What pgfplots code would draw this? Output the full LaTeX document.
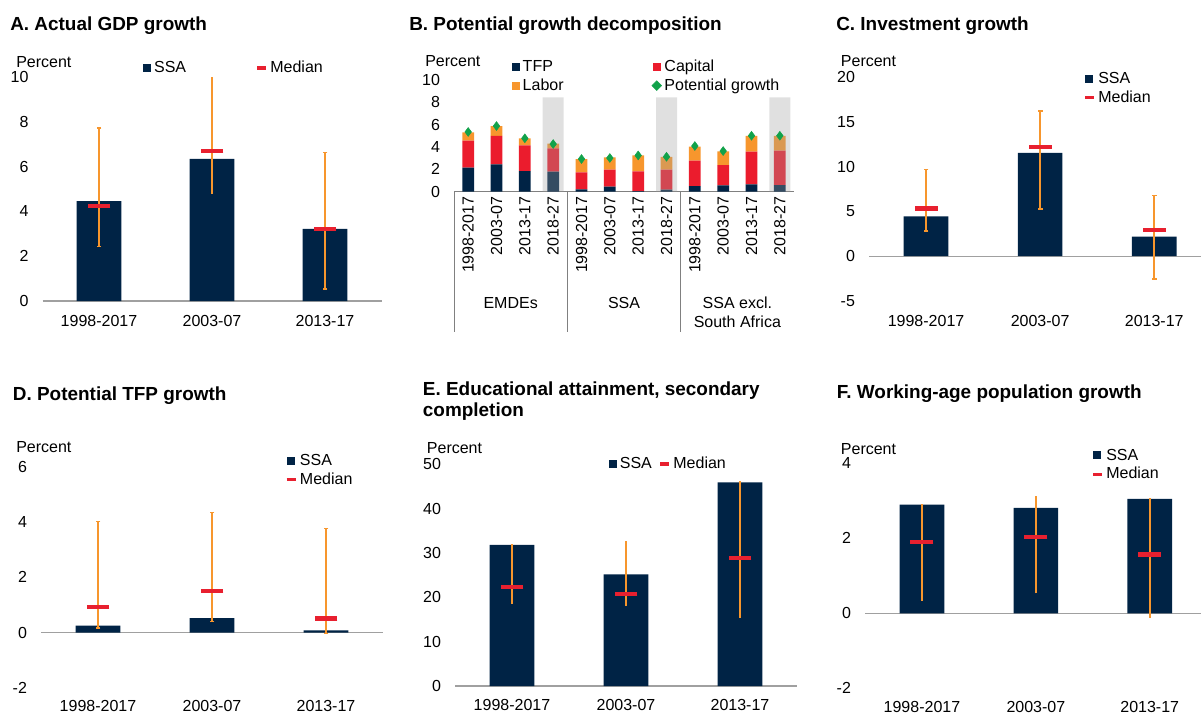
\documentclass[border=0pt]{standalone}
\usepackage{fontspec}
\setmainfont{Liberation Sans}
\usepackage{pgfplots}
\usepackage{pgfplotstable}
\pgfplotsset{compat=1.18}
\definecolor{navy}{HTML}{002345}
\definecolor{medred}{HTML}{E8202F}
\definecolor{errorange}{HTML}{F7962D}
\definecolor{labor}{HTML}{F7962D}
\definecolor{capred}{HTML}{EB1C2D}
\definecolor{potgreen}{HTML}{11A24A}
\definecolor{axgray}{HTML}{A0A0A0}
\definecolor{sepgray}{HTML}{808080}
\definecolor{shade}{HTML}{A0A0A0}
\newcommand{\tfont}{\fontsize{12}{14}\selectfont}
\newcommand{\hfont}{\bfseries\fontsize{14.2}{16}\selectfont}

\pgfplotstableread{
x TFP Cap Lab Pot
0 2.15 2.42 0.75 5.35
1 2.45 2.56 0.87 5.88
2 1.85 2.30 0.63 4.78
3 1.79 2.09 0.42 4.27
4 0.21 1.52 1.20 2.93
5 0.45 1.52 1.10 3.02
6 0.06 1.76 1.43 3.25
7 0.18 1.79 1.16 3.13
8 0.51 2.27 1.25 4.09
9 0.57 1.82 1.22 3.64
10 0.66 2.92 1.41 5.01
11 0.60 3.07 1.32 5.01
}\Bdata

\pgfplotsset{
  panel/.style={
    scale only axis, clip=false,
    axis line style={draw=none},
    major tick length=0pt, tick style={draw=none},
    xmin=-0.5, xmax=2.5,
    xtick={0,1,2}, xticklabels={1998-2017,2003-07,2013-17},
    ticklabel style={font=\tfont},
    yticklabel style={xshift=-7pt},
    extra y ticks={0}, extra y tick labels={},
    extra y tick style={grid=major},
    major grid style={draw=axgray, line width=0.9pt},
    legend style={draw=none, fill=none, font=\tfont, inner sep=0pt},
    legend cell align=left,
  },
  sqleg/.style={legend image code/.code={\fill (0pt,-3pt) rectangle (6pt,3pt);}},
  medleg/.style={legend image code/.code={\draw[medred, line width=2.4pt] (0pt,0pt) -- (6.75pt,0pt);}},
  barsty/.style={ybar, bar width=33.5pt, bar shift=0pt, fill=navy, draw=none, sqleg},
  rng/.style={forget plot, draw=errorange, line width=1.6pt, mark=-, mark size=1.8pt, mark options={draw=errorange, line width=1.3pt}},
  rng2/.style={forget plot, draw=errorange, line width=1.6pt, mark=none},
  medsty/.style={only marks, mark=-, mark size=8.6pt, mark options={line width=3.2pt, draw=medred}, medleg},
}

\begin{document}
\begin{tikzpicture}
\useasboundingbox (0pt,0pt) rectangle (900.75pt,-536.25pt);

% ---------- Panel A ----------
\begin{axis}[panel, at={(31.875pt,-225.75pt)}, anchor=south west, width=254.25pt, height=168pt,
  ymin=0, ymax=10, ytick={0,2,4,6,8,10}, yticklabels={0,2,4,6,8,10},
  xticklabel style={yshift=-7pt},
  legend columns=2, legend style={at={(0.297,1.040)}, anchor=west, /tikz/every even column/.append style={column sep=50pt}}]
\addplot[barsty] coordinates {(0,4.46) (1,6.35) (2,3.22)}; \addlegendentry{SSA}
\addplot[rng] coordinates {(0,2.43) (0,7.72)};
\addplot[rng2] coordinates {(1,4.78) (1,10)};
\addplot[rng] coordinates {(2,0.52) (2,6.63)};
\addplot[medsty] coordinates {(0,4.25) (1,6.71) (2,3.20)}; \addlegendentry{Median}
\end{axis}

% ---------- Panel B ----------
\begin{axis}[panel, at={(340.5pt,-143.8pt)}, anchor=south west, width=255pt, height=83.8pt,
  xmin=-0.5, xmax=11.5, ymin=0, ymax=10, ytick={0,2,4,6,8,10}, yticklabels={0,2,4,6,8,10},
  xtick={0,...,11},
  xticklabels={1998-2017,2003-07,2013-17,2018-27,1998-2017,2003-07,2013-17,2018-27,1998-2017,2003-07,2013-17,2018-27},
  xticklabel style={rotate=90, anchor=east},
  major grid style={draw=sepgray, line width=0.8pt},
  ybar stacked, bar width=8.8pt,
  legend columns=2, legend style={at={(0.170,1.206)}, anchor=north west, /tikz/every even column/.append style={column sep=64pt}}]
\addplot[fill=navy, draw=none, sqleg] table[x=x, y=TFP]{\Bdata}; \addlegendentry{TFP}
\addplot[fill=capred, draw=none, sqleg] table[x=x, y=Cap]{\Bdata}; \addlegendentry{Capital}
\addplot[fill=labor, draw=none, sqleg] table[x=x, y=Lab]{\Bdata}; \addlegendentry{Labor}
\addlegendimage{legend image code/.code={\fill[potgreen] (3pt,-3.6pt) -- (6.6pt,0pt) -- (3pt,3.6pt) -- (-0.6pt,0pt) -- cycle;}}
\addlegendentry{Potential growth}
\draw[sepgray, line width=0.6pt] (axis cs:-0.5,0) -- ++(0pt,-105pt);
\draw[sepgray, line width=0.6pt] (axis cs:3.5,0) -- ++(0pt,-105pt);
\draw[sepgray, line width=0.6pt] (axis cs:7.5,0) -- ++(0pt,-105pt);
\node[font=\tfont, yshift=-83.5pt] at (axis cs:1.5,0) {EMDEs};
\node[font=\tfont, yshift=-83.5pt] at (axis cs:5.5,0) {SSA};
\node[font=\tfont, align=center, yshift=-90.5pt] at (axis cs:9.5,0) {SSA excl.\\South Africa};
\end{axis}
\begin{axis}[at={(340.5pt,-143.8pt)}, anchor=south west, scale only axis, width=255pt, height=83.8pt,
  xmin=-0.5, xmax=11.5, ymin=0, ymax=10, hide axis, clip=false]
\addplot[only marks, mark=diamond*, mark size=3.3pt, mark options={fill=potgreen, draw=potgreen}] table[x=x, y=Pot]{\Bdata};
\addplot[ybar, bar width=15.75pt, bar shift=0pt, fill=shade, draw=none, fill opacity=0.33] coordinates {(3,8.45) (7,8.45) (11,8.45)};
\end{axis}

% ---------- Panel C ----------
\begin{axis}[panel, at={(651.75pt,-225.75pt)}, anchor=south west, width=249pt, height=168pt,
  xmax=2.41, ymin=-5, ymax=20, ytick={-5,0,5,10,15,20}, yticklabels={-5,0,5,10,15,20},
  xticklabel style={yshift=-7pt},
  legend style={at={(0.645,1.033)}, anchor=north west}]
\addplot[barsty] coordinates {(0,4.45) (1,11.54) (2,2.19)}; \addlegendentry{SSA}
\addplot[rng] coordinates {(0,2.78) (0,9.68)};
\addplot[rng] coordinates {(1,5.27) (1,16.2)};
\addplot[rng] coordinates {(2,-2.52) (2,6.79)};
\addplot[medsty] coordinates {(0,5.31) (1,12.2) (2,2.89)}; \addlegendentry{Median}
\end{axis}

% ---------- Panel D ----------
\begin{axis}[panel, at={(30.75pt,-515.8pt)}, anchor=south west, width=256.5pt, height=165.75pt,
  ymin=-2, ymax=6, ytick={-2,0,2,4,6}, yticklabels={-2,0,2,4,6},
  xticklabel style={yshift=-6pt},
  legend style={at={(0.713,1.071)}, anchor=north west}]
\addplot[barsty] coordinates {(0,0.25) (1,0.52) (2,0.08)}; \addlegendentry{SSA}
\addplot[rng] coordinates {(0,0.16) (0,4.02)};
\addplot[rng] coordinates {(1,0.40) (1,4.34)};
\addplot[rng] coordinates {(2,-0.04) (2,3.76)};
\addplot[medsty] coordinates {(0,0.93) (1,1.51) (2,0.51)}; \addlegendentry{Median}
\end{axis}

% ---------- Panel E ----------
\begin{axis}[panel, at={(341.25pt,-514.5pt)}, anchor=south west, width=256.5pt, height=166.3pt,
  ymin=0, ymax=50, ytick={0,10,20,30,40,50}, yticklabels={0,10,20,30,40,50},
  xticklabel style={yshift=-6.7pt},
  legend columns=2, legend style={at={(0.450,1.001)}, anchor=west, /tikz/every even column/.append style={column sep=3pt}}]
\addplot[barsty] coordinates {(0,31.8) (1,25.2) (2,45.9)}; \addlegendentry{SSA}
\addplot[rng2] coordinates {(0,18.6) (0,32.0)};
\addplot[rng2] coordinates {(1,18.0) (1,32.7)};
\addplot[rng2] coordinates {(2,15.3) (2,46.2)};
\addplot[medsty] coordinates {(0,22.3) (1,20.75) (2,28.8)}; \addlegendentry{Median}
\end{axis}

% ---------- Panel F ----------
\begin{axis}[panel, at={(648.75pt,-516.2pt)}, anchor=south west, width=252pt, height=168.75pt,
  xmax=2.45, ymin=-2, ymax=4, ytick={-2,0,2,4}, yticklabels={-2,0,2,4},
  xticklabel style={yshift=-6.5pt},
  legend style={at={(0.673,1.077)}, anchor=north west}]
\addplot[barsty] coordinates {(0,2.90) (1,2.81) (2,3.05)}; \addlegendentry{SSA}
\addplot[rng2] coordinates {(0,0.34) (0,2.92)};
\addplot[rng2] coordinates {(1,0.53) (1,3.14)};
\addplot[rng2] coordinates {(2,-0.12) (2,3.08)};
\addplot[medsty] coordinates {(0,1.91) (1,2.03) (2,1.57)}; \addlegendentry{Median}
\end{axis}

% ---------- Titles and unit labels ----------
\node[anchor=base west, font=\hfont, inner sep=0pt] at (7.5pt,-22.5pt) {A. Actual GDP growth};
\node[anchor=base west, font=\hfont, inner sep=0pt] at (306.75pt,-22.5pt) {B. Potential growth decomposition};
\node[anchor=base west, font=\hfont, inner sep=0pt] at (627pt,-22.5pt) {C. Investment growth};
\node[anchor=base west, font=\hfont, inner sep=0pt] at (9.5pt,-300pt) {D. Potential TFP growth};
\node[anchor=base west, font=\hfont, inner sep=0pt] at (317pt,-296.8pt) {E. Educational attainment, secondary};
\node[anchor=base west, font=\hfont, inner sep=0pt] at (317pt,-312.4pt) {completion};
\node[anchor=base west, font=\hfont, inner sep=0pt] at (627.5pt,-298.7pt) {F. Working-age population growth};

\node[anchor=base west, font=\tfont, inner sep=0pt] at (12pt,-50.6pt) {Percent};
\node[anchor=base west, font=\tfont, inner sep=0pt] at (318.75pt,-50pt) {Percent};
\node[anchor=base west, font=\tfont, inner sep=0pt] at (630.5pt,-50pt) {Percent};
\node[anchor=base west, font=\tfont, inner sep=0pt] at (12pt,-339.5pt) {Percent};
\node[anchor=base west, font=\tfont, inner sep=0pt] at (320pt,-340pt) {Percent};
\node[anchor=base west, font=\tfont, inner sep=0pt] at (630.5pt,-340.5pt) {Percent};
\end{tikzpicture}
\end{document}
